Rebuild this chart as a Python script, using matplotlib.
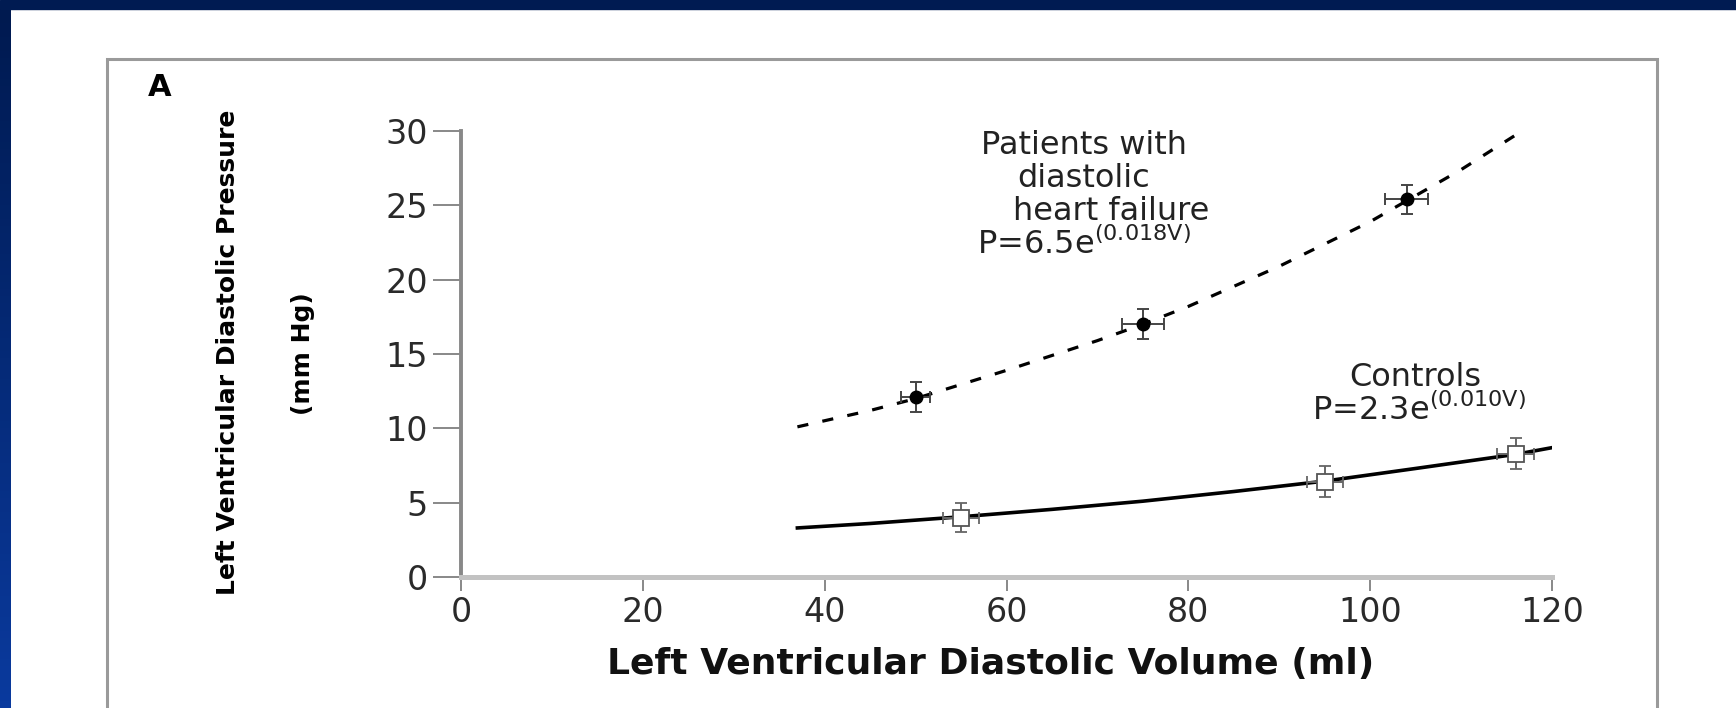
import numpy as np
import matplotlib
matplotlib.use("Agg")
import matplotlib.pyplot as plt
from matplotlib.patches import Rectangle

# points with error bars
v_patients = [50, 75, 104]
p_patients = [12.1, 17.0, 25.4]
xerr_patients = [1.6, 2.3, 2.4]
yerr_patients = [1.0, 1.0, 1.0]

v_controls = [55, 95, 116]
p_controls = [4.0, 6.4, 8.3]
xerr_controls = [2.0, 2.0, 2.0]
yerr_controls = [1.0, 1.05, 1.05]

# fitted curves
v_fit_patients = [37, 45, 50, 60, 70, 75, 80, 90, 100, 104, 110, 116.7]
p_fit_patients = [10.1, 11.2, 12.0, 13.9, 15.9, 17.0, 18.2, 20.9, 23.9, 25.3, 27.4, 30.0]
v_fit_controls = [37, 45, 55, 65, 75, 85, 95, 105, 116, 120]
p_fit_controls = [3.3, 3.6, 4.05, 4.55, 5.1, 5.75, 6.45, 7.3, 8.25, 8.7]

x_ticks = [0, 20, 40, 60, 80, 100, 120]
y_ticks = [0, 5, 10, 15, 20, 25, 30]

W, H = 1736, 708
fig = plt.figure(figsize=(W / 100, H / 100), dpi=100, facecolor="white")

# slide background: blue bands top and left
fig.patches.append(Rectangle((0, 1 - 9 / H), 1, 9 / H, transform=fig.transFigure,
                             color="#001b52", zorder=0))
band = fig.add_axes([0, 0, 11 / W, 1 - 9 / H])
grad = np.linspace(0, 1, 100).reshape(-1, 1)
band.imshow(grad, aspect="auto", cmap=matplotlib.colors.LinearSegmentedColormap.from_list(
    "b", ["#001a50", "#0a3a9e"]), extent=[0, 1, 0, 1], origin="upper")
band.axis("off")

# gray frame of the figure panel
fig.patches.append(Rectangle((107 / W, -0.1), (1657 - 107) / W, 1.1 - 59 / H,
                             transform=fig.transFigure, fill=False,
                             edgecolor="#9a9a9a", lw=2.2, zorder=1))

ax = fig.add_axes([461 / W, (H - 577) / H, (1552 - 461) / W, (577 - 131) / H])
ax.set_facecolor("none")

ax.plot(v_fit_patients, p_fit_patients, color="black", lw=2.3,
        linestyle=(0, (3.5, 4.5)), zorder=3)
ax.plot(v_fit_controls, p_fit_controls, color="black", lw=2.6, zorder=3)

ax.errorbar(v_patients, p_patients, xerr=xerr_patients, yerr=yerr_patients,
            fmt="o", color="black", ms=9, ecolor="#444444", elinewidth=1.4,
            capsize=4, capthick=1.4, zorder=4, clip_on=False)
ax.errorbar(v_controls, p_controls, xerr=xerr_controls, yerr=yerr_controls,
            fmt="s", mfc="white", mec="#555555", mew=1.3, ms=12,
            ecolor="#666666", elinewidth=1.4, capsize=4, capthick=1.4,
            zorder=4, clip_on=False)

ax.set_xlim(0, 120)
ax.set_ylim(0, 30)
ax.set_xticks(x_ticks)
ax.set_yticks(y_ticks)
for s in ["top", "right"]:
    ax.spines[s].set_visible(False)
ax.spines["left"].set_color("#888888")
ax.spines["left"].set_linewidth(2.8)
ax.spines["bottom"].set_color("#c2c2c2")
ax.spines["bottom"].set_linewidth(3.6)
ax.tick_params(axis="x", length=10, width=1.4, color="#888888", pad=4,
               labelsize=24, labelcolor="#2a2a2a")
ax.tick_params(axis="y", length=20, width=1.4, color="#888888", pad=4,
               labelsize=24, labelcolor="#2a2a2a")

txt = dict(color="#222222", fontsize=23, family="DejaVu Sans", va="center", ha="center")
ax.text(68.5, 29.0, "Patients with", **txt)
ax.text(68.5, 26.8, "diastolic", **txt)
ax.text(71.5, 24.6, "heart failure", **txt)
ax.text(68.5, 22.4, r"P=6.5e$^{\mathregular{(0.018V)}}$", **txt)
ax.text(105.0, 13.4, "Controls", **txt)
ax.text(105.4, 11.2, r"P=2.3e$^{\mathregular{(0.010V)}}$", **txt)

fig.text(991 / W, (H - 664) / H, "Left Ventricular Diastolic Volume (ml)",
         fontsize=26, fontweight="bold", family="DejaVu Sans",
         ha="center", va="center", color="#111111")
fig.text(160 / W, (H - 88) / H, "A", fontsize=22, fontweight="bold",
         family="DejaVu Sans", ha="center", va="center", color="black")
fig.text(228 / W, (H - 352) / H, "Left Ventricular Diastolic Pressure",
         fontsize=18, family="DejaVu Sans", fontweight="bold",
         rotation=90, ha="center", va="center", color="black")
fig.text(303 / W, (H - 354) / H, "(mm Hg)",
         fontsize=18, family="DejaVu Sans", fontweight="bold",
         rotation=90, ha="center", va="center", color="black")

fig.savefig("out.png", dpi=100, facecolor=fig.get_facecolor())
